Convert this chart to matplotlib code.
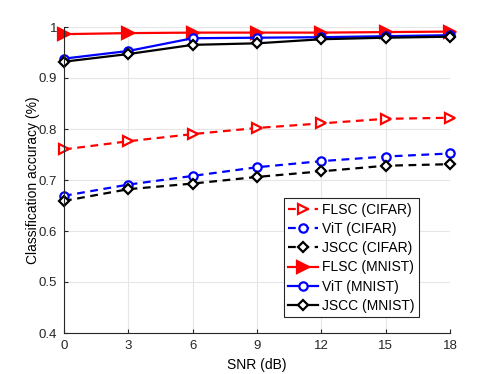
import matplotlib
matplotlib.use('Agg')
import matplotlib.pyplot as plt

plt.rcParams.update({
    'font.family': ['Liberation Sans', 'DejaVu Sans'],
    'font.size': 10,
})

# SNR points and accuracy per scheme
snr = [0, 3, 6, 9, 12, 15, 18]
flsc_cifar = [0.760, 0.776, 0.790, 0.802, 0.811, 0.820, 0.822]
vit_cifar = [0.669, 0.691, 0.708, 0.725, 0.737, 0.746, 0.752]
jscc_cifar = [0.659, 0.682, 0.693, 0.706, 0.717, 0.728, 0.731]
flsc_mnist = [0.986, 0.988, 0.989, 0.989, 0.989, 0.990, 0.991]
vit_mnist = [0.938, 0.953, 0.978, 0.979, 0.980, 0.982, 0.984]
jscc_mnist = [0.932, 0.947, 0.965, 0.968, 0.976, 0.979, 0.981]

fig = plt.figure(figsize=(4.98, 3.74), dpi=100)
ax = fig.add_axes([64 / 498, 1 - 333 / 374, 386 / 498, 306 / 374])

dash = (0, (3.5, 2.5))
common = dict(linewidth=1.6, markersize=6, markeredgewidth=1.6,
              markerfacecolor='white', clip_on=False)
ax.plot(snr, flsc_cifar, color='red', linestyle=dash, marker='>', label='FLSC (CIFAR)',
        **{**common, 'markersize': 7})
ax.plot(snr, vit_cifar, color='blue', linestyle=dash, marker='o', label='ViT (CIFAR)', **common)
ax.plot(snr, jscc_cifar, color='black', linestyle=dash, marker='D', label='JSCC (CIFAR)',
        **{**common, 'markersize': 5})
ax.plot(snr, flsc_mnist, color='red', linestyle='-', marker='>', label='FLSC (MNIST)',
        **{**common, 'markersize': 8, 'markerfacecolor': 'red'})
ax.plot(snr, vit_mnist, color='blue', linestyle='-', marker='o', label='ViT (MNIST)', **common)
ax.plot(snr, jscc_mnist, color='black', linestyle='-', marker='D', label='JSCC (MNIST)',
        **{**common, 'markersize': 5})

ax.set_xlim(0, 18)
ax.set_ylim(0.4, 1.0)
ax.set_xticks(snr)
ax.set_yticks([0.4, 0.5, 0.6, 0.7, 0.8, 0.9, 1.0])
ax.set_yticklabels(['0.4', '0.5', '0.6', '0.7', '0.8', '0.9', '1'])
ax.set_xlabel('SNR (dB)', labelpad=4)
ax.set_ylabel('Classification accuracy (%)', labelpad=-1)

ax.grid(True, color='#e6e6e6', linewidth=0.8)
ax.set_axisbelow(True)
for side in ['top', 'right']:
    ax.spines[side].set_visible(False)
for side in ['left', 'bottom']:
    ax.spines[side].set_color('#262626')
    ax.spines[side].set_linewidth(0.8)
ax.tick_params(direction='in', length=3, width=0.8, colors='#262626', labelsize=9.5, pad=5)

leg = ax.legend(loc='lower right', bbox_to_anchor=(0.92, 0.052), fancybox=False,
                framealpha=1, edgecolor='#262626', borderpad=0.3, labelspacing=0.38,
                handlelength=2.2, handletextpad=0.3, borderaxespad=0, fontsize=10)
leg.get_frame().set_linewidth(0.8)

fig.savefig('out.png', dpi=100)
